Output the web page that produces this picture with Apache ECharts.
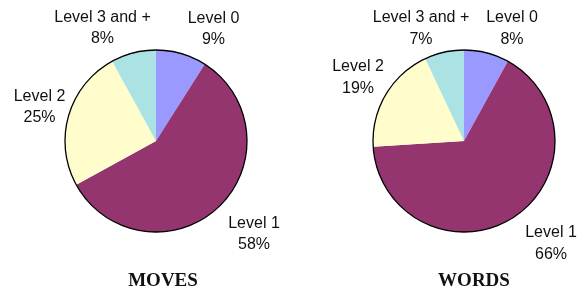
<!DOCTYPE html>
<html>
<head>
<meta charset="utf-8">
<script src="https://cdn.jsdelivr.net/npm/echarts@6/dist/echarts.min.js"></script>
<style>
html,body{margin:0;padding:0;background:#fff;}
#chart{width:581px;height:299px;}
</style>
</head>
<body>
<div id="chart"></div>
<script>
// ---- data ----
const categories = ['Level 0', 'Level 1', 'Level 2', 'Level 3 and +'];
const movesValues = [9, 58, 25, 8];
const wordsValues = [8, 66, 19, 7];
const chartTitles = ['MOVES', 'WORDS'];

// ---- layout / style ----
const colors = ['#9999FF', '#953570', '#FFFDCC', '#ABE3E5'];
const pieCenters = [[156, 141], [464, 141]];
const pieRadius = 91;
// label block centres relative to pie centre (Excel "best fit" placement)
const labelOffsets = [
  [[57.5, -112], [98, 93], [-116.5, -34], [-53.5, -113]],
  [[48, -112.5], [87, 102.5], [-106, -63.5], [-43, -112.5]]
];

function makeData(values) {
  return categories.map((name, i) => ({ name: name, value: values[i] }));
}

const seriesList = [];
[movesValues, wordsValues].forEach((vals, k) => {
  seriesList.push({
    type: 'pie',
    center: pieCenters[k],
    radius: pieRadius,
    startAngle: 90,
    clockwise: true,
    animation: false,
    silent: true,
    avoidLabelOverlap: false,
    color: colors,
    itemStyle: { borderWidth: 0 },
    label: {
      show: true,
      position: 'outside',
      formatter: '{b}\n{c}%',
      fontFamily: '"Liberation Sans", Arial, sans-serif',
      fontSize: 16,
      lineHeight: 21.5,
      color: '#111',
      align: 'center'
    },
    labelLine: { show: false },
    labelLayout: function (p) {
      const off = labelOffsets[k][p.dataIndex];
      return {
        x: pieCenters[k][0] + off[0],
        y: pieCenters[k][1] + off[1],
        align: 'center',
        verticalAlign: 'middle'
      };
    },
    data: makeData(vals)
  });
  // outline circle
  seriesList.push({
    type: 'pie',
    center: pieCenters[k],
    radius: pieRadius,
    animation: false,
    silent: true,
    label: { show: false },
    labelLine: { show: false },
    itemStyle: { color: 'rgba(0,0,0,0)', borderColor: '#000', borderWidth: 1.3 },
    data: [{ value: 1, name: 'outline' }]
  });
});

const chart = echarts.init(document.getElementById('chart'), null, { renderer: 'canvas' });
chart.setOption({
  backgroundColor: '#fff',
  animation: false,
  title: chartTitles.map((t, k) => ({
    text: t,
    left: [163, 474][k],
    top: 272,
    textAlign: 'center',
    padding: 0,
    textStyle: {
      fontFamily: '"Liberation Serif", "Times New Roman", serif',
      fontWeight: 'bold',
      fontSize: 19,
      color: '#111'
    }
  })),
  series: seriesList
});
</script>
</body>
</html>
